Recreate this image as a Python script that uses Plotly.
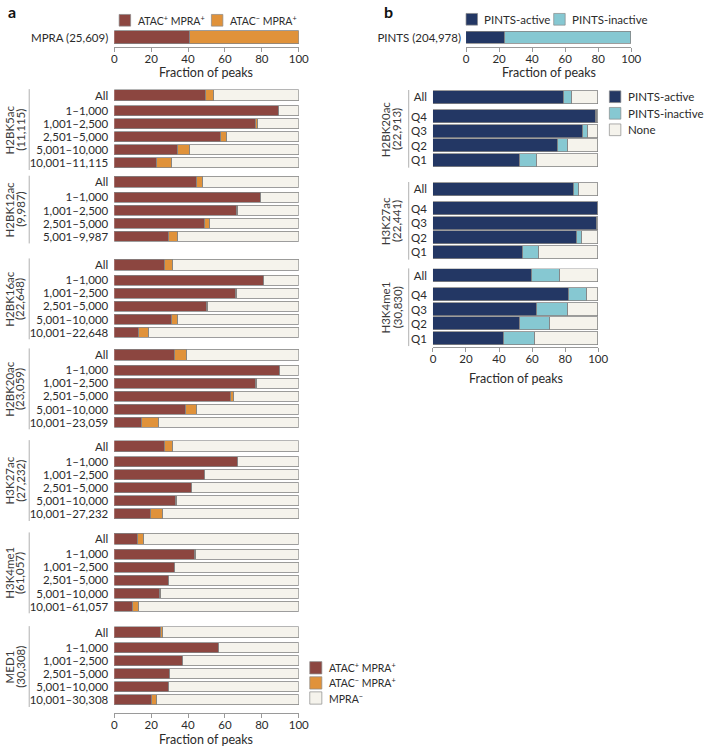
import plotly.graph_objects as go

W, H = 708, 746
FONT = "Lato"
TXT = "#2b2b2b"
AXC = "#9a9a9a"
EDGE = "#858585"

C_POS = "#8c4640"
C_NEG = "#e0923a"
C_OFF = "#f5f3ec"
C_ACT = "#233764"
C_INA = "#86c8d2"

# ---------------- data ----------------
mpra_label = "MPRA (25,609)"
mpra_atac_pos = [41.2]
mpra_atac_neg = [58.8]

pints_label = "PINTS (204,978)"
pints_active = [23.5]
pints_inactive = [76.5]

a_marks = ["H2BK5ac", "H2BK12ac", "H2BK16ac", "H2BK20ac", "H3K27ac", "H3K4me1", "MED1"]
a_totals = ["(11,115)", "(9,987)", "(22,648)", "(23,059)", "(27,232)", "(61,057)", "(30,308)"]
a_bins = [
    ["All", "1–1,000", "1,001–2,500", "2,501–5,000", "5,001–10,000", "10,001–11,115"],
    ["All", "1–1,000", "1,001–2,500", "2,501–5,000", "5,001–9,987"],
    ["All", "1–1,000", "1,001–2,500", "2,501–5,000", "5,001–10,000", "10,001–22,648"],
    ["All", "1–1,000", "1,001–2,500", "2,501–5,000", "5,001–10,000", "10,001–23,059"],
    ["All", "1–1,000", "1,001–2,500", "2,501–5,000", "5,001–10,000", "10,001–27,232"],
    ["All", "1–1,000", "1,001–2,500", "2,501–5,000", "5,001–10,000", "10,001–61,057"],
    ["All", "1–1,000", "1,001–2,500", "2,501–5,000", "5,001–10,000", "10,001–30,308"],
]
a_atac_pos = [
    [49.7, 89.5, 76.8, 58.2, 34.9, 23.2],
    [45.1, 79.5, 66.9, 49.5, 29.6],
    [27.9, 81.2, 66.3, 50.4, 31.2, 13.5],
    [32.8, 90.1, 77.1, 63.5, 39.0, 15.3],
    [27.9, 67.4, 49.3, 42.0, 33.7, 20.1],
    [13.1, 44.0, 32.8, 29.8, 25.0, 10.3],
    [25.4, 56.9, 37.6, 30.2, 30.0, 20.7],
]
a_atac_neg = [
    [4.4, 0.0, 1.2, 2.8, 6.4, 8.4],
    [3.3, 0.0, 0.5, 2.3, 5.3],
    [4.0, 0.0, 0.2, 0.8, 3.6, 5.3],
    [6.8, 0.0, 0.3, 1.6, 5.9, 9.2],
    [4.2, 0.0, 0.2, 0.2, 0.6, 6.3],
    [3.1, 0.2, 0.4, 0.2, 0.6, 3.2],
    [1.4, 0.0, 0.0, 0.1, 0.0, 2.5],
]
a_mpra_neg = [
    [45.9, 10.5, 22.0, 39.0, 58.7, 68.4],
    [51.6, 20.5, 32.6, 48.2, 65.1],
    [68.1, 18.8, 33.5, 48.8, 65.2, 81.2],
    [60.4, 9.9, 22.6, 34.9, 55.1, 75.5],
    [67.9, 32.6, 50.5, 57.8, 65.7, 73.6],
    [83.8, 55.8, 66.8, 70.0, 74.4, 86.5],
    [73.2, 43.1, 62.4, 69.7, 70.0, 76.8],
]

b_marks = ["H2BK20ac", "H3K27ac", "H3K4me1"]
b_totals = ["(22,913)", "(22,441)", "(30,830)"]
b_bins = ["All", "Q4", "Q3", "Q2", "Q1"]
b_active = [
    [79.3, 98.8, 90.5, 75.6, 52.9],
    [85.1, 99.9, 99.2, 86.9, 54.7],
    [60.2, 82.6, 63.2, 52.9, 42.8],
]
b_inactive = [
    [5.0, 0.6, 3.2, 6.2, 9.9],
    [3.2, 0.1, 0.3, 3.2, 9.3],
    [16.9, 10.7, 18.8, 18.2, 18.8],
]
b_none = [
    [15.7, 0.6, 6.3, 18.2, 37.2],
    [11.7, 0.0, 0.5, 9.9, 36.0],
    [22.9, 6.7, 18.0, 28.9, 38.4],
]

x_ticks = [0, 20, 40, 60, 80, 100]
x_title = "Fraction of peaks"

# ---------------- layout geometry (pixels) ----------------
def px(x):
    return x / W


def py(y):
    return 1 - y / H


A_X0, A_X1 = 113.3, 301.3
B_X0, B_X1 = 438.0, 606.3
BT_X0, BT_X1 = 471.7, 640.0
a_row_px, a_first_gap, a_bar_w = 13.15, 1.15, 0.78
b_row_px, b_first_gap, b_bar_w = 14.6, 1.32, 0.91
a_all_centers = [95.7, 182.3, 265.0, 355.0, 446.7, 539.0, 632.7]
b_all_centers = [97.3, 189.3, 275.7]

fig = go.Figure()
layout = {}
shapes = []
annotations = []

tickfont = dict(family=FONT, size=11.5, color=TXT)


def ax_name(i):
    return "yaxis" if i == 1 else f"yaxis{i}"


def ref(i):
    return "y" if i == 1 else f"y{i}"


def add_group(idx, xref, labels, series, colors, all_center, row_px, first_gap, bar_w,
              name, total, name_x, total_x, bracket_x):
    n = len(labels)
    pos = [0.0] + [first_gap + k - 1 for k in range(1, n)]
    for vals, col in zip(series, colors):
        fig.add_trace(go.Bar(
            x=vals, y=pos, orientation="h", width=bar_w,
            marker=dict(color=col, line=dict(color=EDGE, width=0.8)),
            xaxis=xref, yaxis=ref(idx), showlegend=False, hoverinfo="x",
        ))
    top = all_center - 0.5 * row_px
    bottom = all_center + (pos[-1] + 0.5) * row_px
    layout[ax_name(idx)] = dict(
        domain=[py(bottom), py(top)], range=[pos[-1] + 0.5, -0.5], anchor=xref,
        tickvals=pos, ticktext=labels, tickfont=tickfont, showline=False,
        showgrid=False, zeroline=False, ticks="", ticklabelstandoff=5,
    )
    shapes.append(dict(type="line", xref="paper", yref=f"{ref(idx)} domain",
                       x0=px(bracket_x), x1=px(bracket_x), y0=0.0, y1=1.0,
                       line=dict(color="#b0b0b0", width=1)))
    for txt, xx in ((name, name_x), (total, total_x)):
        annotations.append(dict(text=txt, xref="paper", yref=f"{ref(idx)} domain",
                                x=px(xx), y=0.5, xanchor="center", yanchor="middle",
                                textangle=-90, showarrow=False,
                                font=dict(family=FONT, size=11.5, color="#3a3a3a")))


# panel a groups
for g in range(len(a_marks)):
    add_group(g + 1, "x", a_bins[g], [a_atac_pos[g], a_atac_neg[g], a_mpra_neg[g]],
              [C_POS, C_NEG, C_OFF], a_all_centers[g], a_row_px, a_first_gap, a_bar_w,
              a_marks[g], a_totals[g], 7.0, 17.5, 26.7)

# panel a top bar
fig.add_trace(go.Bar(x=mpra_atac_pos, y=[mpra_label], orientation="h", width=0.77,
                     marker=dict(color=C_POS, line=dict(color=EDGE, width=0.8)),
                     xaxis="x2", yaxis="y8", showlegend=False, hoverinfo="x"))
fig.add_trace(go.Bar(x=mpra_atac_neg, y=[mpra_label], orientation="h", width=0.77,
                     marker=dict(color=C_NEG, line=dict(color=EDGE, width=0.8)),
                     xaxis="x2", yaxis="y8", showlegend=False, hoverinfo="x"))

# panel b groups
for g in range(len(b_marks)):
    add_group(9 + g, "x3", b_bins, [b_active[g], b_inactive[g], b_none[g]],
              [C_ACT, C_INA, C_OFF], b_all_centers[g], b_row_px, b_first_gap, b_bar_w,
              b_marks[g], b_totals[g], 389.5, 401.5, 413.3)

# panel b top bar
fig.add_trace(go.Bar(x=pints_active, y=[pints_label], orientation="h", width=0.69,
                     marker=dict(color=C_ACT, line=dict(color=EDGE, width=0.8)),
                     xaxis="x4", yaxis="y12", showlegend=False, hoverinfo="x"))
fig.add_trace(go.Bar(x=pints_inactive, y=[pints_label], orientation="h", width=0.69,
                     marker=dict(color=C_INA, line=dict(color=EDGE, width=0.8)),
                     xaxis="x4", yaxis="y12", showlegend=False, hoverinfo="x"))


def xaxis(domain, **kw):
    d = dict(domain=domain, range=[0, 100], tickvals=x_ticks, ticks="outside",
             ticklen=4, tickcolor=AXC, showline=True, linecolor=AXC, linewidth=1,
             showgrid=False, zeroline=False, tickfont=tickfont, ticklabelstandoff=-3)
    d.update(kw)
    return d


layout["xaxis"] = xaxis([px(A_X0), px(A_X1)], anchor="free", position=py(713.3))
layout["xaxis2"] = xaxis([px(A_X0), px(A_X1)], anchor="y8")
layout["xaxis3"] = xaxis([px(B_X0), px(B_X1)], anchor="free", position=py(347.3))
layout["xaxis4"] = xaxis([px(BT_X0), px(BT_X1)], anchor="y12")

for (x0, x1, yc) in ((A_X0, A_X1, 72.5), (A_X0, A_X1, 739.5),
                     (B_X0, B_X1, 378.0), (BT_X0, BT_X1, 72.5)):
    annotations.append(dict(text=x_title, xref="paper", yref="paper",
                            x=px((x0 + x1) / 2), y=py(yc), xanchor="center",
                            yanchor="middle", showarrow=False,
                            font=dict(family=FONT, size=12.5, color=TXT)))

layout["yaxis8"] = dict(domain=[py(46.7), py(29.3)], anchor="x2", tickfont=tickfont,
                        showgrid=False, zeroline=False, ticks="", ticklabelstandoff=5,
                        showline=False)
layout["yaxis12"] = dict(domain=[py(46.7), py(28.4)], anchor="x4", tickfont=tickfont,
                         showgrid=False, zeroline=False, ticks="", ticklabelstandoff=4,
                         showline=False)

# ---------------- legends (drawn) ----------------
def swatch(x0, yc, color, text, size=11.7, tx_gap=5.0, fsize=11.5):
    shapes.append(dict(type="rect", xref="paper", yref="paper",
                       x0=px(x0), x1=px(x0 + size), y0=py(yc - size / 2), y1=py(yc + size / 2),
                       fillcolor=color, line=dict(color="#8a8a8a", width=0.7)))
    annotations.append(dict(text=text, xref="paper", yref="paper", x=px(x0 + size + tx_gap),
                            y=py(yc), xanchor="left", yanchor="middle", showarrow=False,
                            font=dict(family=FONT, size=fsize, color=TXT)))


pp = "ATAC<sup>+</sup> MPRA<sup>+</sup>"
mp = "ATAC<sup>−</sup> MPRA<sup>+</sup>"
swatch(118.3, 20.3, C_POS, pp, fsize=10.5)
swatch(212.3, 20.3, C_NEG, mp, fsize=10.5)
swatch(471.7, 19.3, C_ACT, "PINTS-active")
swatch(561.0, 19.3, C_INA, "PINTS-inactive")

swatch(617.7, 96.7, C_ACT, "PINTS-active")
swatch(617.7, 113.3, C_INA, "PINTS-inactive")
swatch(617.7, 129.8, C_OFF, "None")

swatch(312.5, 667.8, C_POS, pp, size=12.3, fsize=10.5)
swatch(312.5, 682.9, C_NEG, mp, size=12.3, fsize=10.5)
swatch(312.5, 698.0, C_OFF, "MPRA<sup>−</sup>", size=12.3, fsize=10.5)

for letter, xx in (("a", 3.0), ("b", 386.0)):
    annotations.append(dict(text=f"<b>{letter}</b>", xref="paper", yref="paper",
                            x=px(xx), y=py(0.0), xanchor="left", yanchor="top",
                            showarrow=False, font=dict(family=FONT, size=16, color="#111")))

fig.update_layout(
    width=W, height=H, autosize=False,
    margin=dict(l=0, r=0, t=0, b=0),
    paper_bgcolor="white", plot_bgcolor="white",
    barmode="stack", bargap=0, showlegend=False,
    font=dict(family=FONT, size=11, color=TXT),
    shapes=shapes, annotations=annotations,
    **layout,
)

fig.write_html("out.html", config={"displayModeBar": False},
               post_script="document.body.style.margin='0px';")
